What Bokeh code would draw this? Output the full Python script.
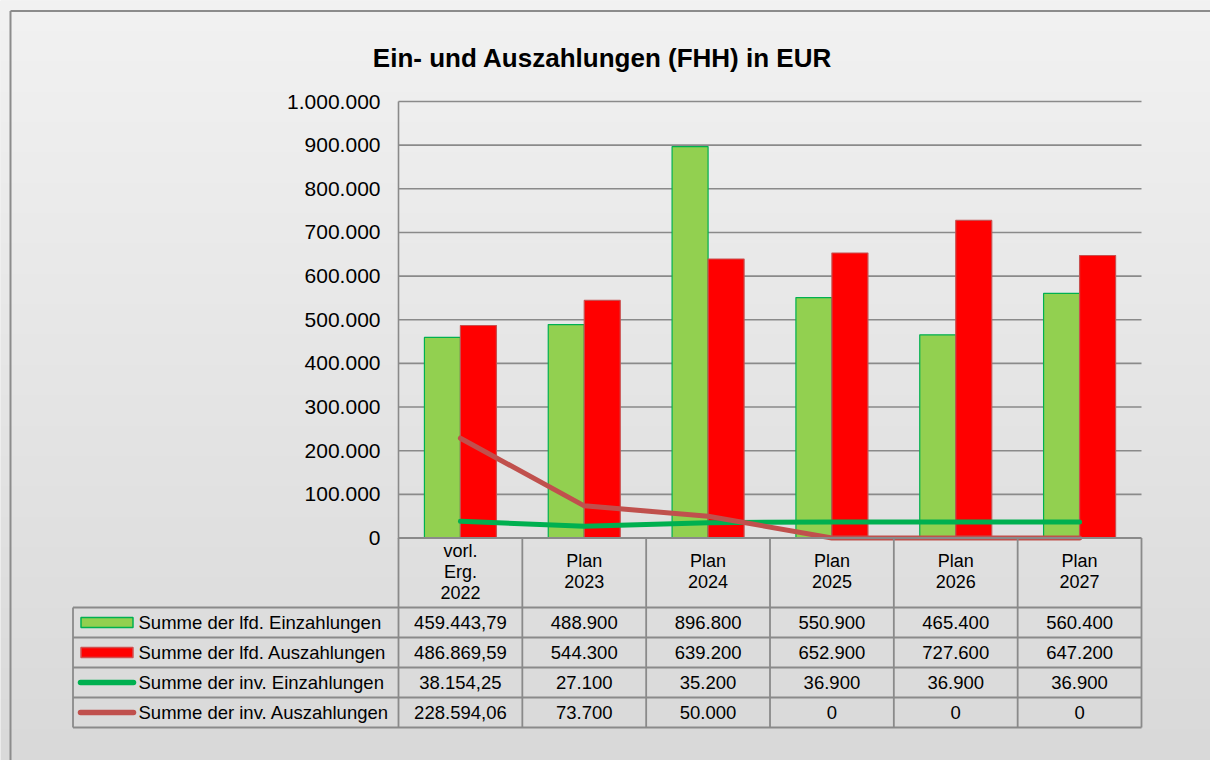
import numpy as np
from bokeh.plotting import figure
from bokeh.models import Range1d, LinearAxis, FixedTicker, CustomJSTickFormatter
from bokeh.core.properties import value
from bokeh.embed import file_html
from bokeh.resources import INLINE

# ---------------- data ----------------
categories = ["vorl.\nErg.\n2022", "Plan\n2023", "Plan\n2024", "Plan\n2025", "Plan\n2026", "Plan\n2027"]
lfd_ein = [459443.79, 488900, 896800, 550900, 465400, 560400]
lfd_aus = [486869.59, 544300, 639200, 652900, 727600, 647200]
inv_ein = [38154.25, 27100, 35200, 36900, 36900, 36900]
inv_aus = [228594.06, 73700, 50000, 0, 0, 0]
series_names = ["Summe der lfd. Einzahlungen", "Summe der lfd. Auszahlungen",
                "Summe der inv. Einzahlungen", "Summe der inv. Auszahlungen"]
y_ticks = [0, 100000, 200000, 300000, 400000, 500000, 600000, 700000, 800000, 900000, 1000000]
title_text = "Ein- und Auszahlungen (FHH) in EUR"

# ---------------- layout (page pixels) ----------------
W, H = 1210, 760
OFF = 0
AX_L, AX_R = 398.0, 1141.0
Y_TOP, Y_ZERO = 101.0, 537.5
N = len(categories)
U = (AX_R - AX_L) / N
K = 1_000_000 / (Y_ZERO - Y_TOP)


def X(px):
    return (px - AX_L) / U


def Y(py):
    return (Y_ZERO - py) * K


FONT = "Liberation Sans"
GRID_C = "#8a8a8a"

p = figure(width=W, height=H, title=None,
           x_range=Range1d(X(OFF), X(OFF + W)), y_range=Range1d(Y(OFF + H), Y(OFF)),
           x_axis_type=None, y_axis_type=None,
           toolbar_location=None, output_backend="svg",
           min_border=0, min_border_left=0, min_border_right=0,
           min_border_top=0, min_border_bottom=0,
           outline_line_color=None,
           background_fill_color="#e6e6e6", border_fill_color="#e6e6e6")

# background gradient
rows = H
top_c = np.array([242, 242, 242], dtype=float)
bot_c = np.array([217, 217, 217], dtype=float)
t = np.linspace(0, 1, rows)[:, None]
cols = (bot_c * (1 - t) + top_c * t).astype(np.uint32)  # row 0 = bottom
img = np.empty((rows, 2), dtype=np.uint32)
view = img.view(dtype=np.uint8).reshape((rows, 2, 4))
view[:, :, 0] = cols[:, 0:1]
view[:, :, 1] = cols[:, 1:2]
view[:, :, 2] = cols[:, 2:3]
view[:, :, 3] = 255
p.image_rgba(image=[img], x=X(OFF), y=Y(OFF + H), dw=X(OFF + W) - X(OFF), dh=Y(OFF) - Y(OFF + H))

# outer chart border (left/top visible)
p.segment(x0=[X(10), X(10)], y0=[Y(10.5), Y(10.5)], x1=[X(10), X(1215)], y1=[Y(770), Y(10.5)],
          line_color="#8c8c8c", line_width=2)

# horizontal gridlines
p.segment(x0=[0] * (len(y_ticks) - 1), x1=[N] * (len(y_ticks) - 1),
          y0=y_ticks[1:], y1=y_ticks[1:], line_color=GRID_C, line_width=1.6)

# y axis at plot-area left edge
yaxis = LinearAxis(fixed_location=0, ticker=FixedTicker(ticks=y_ticks),
                   formatter=CustomJSTickFormatter(code="return Math.round(tick).toString().replace(/\\B(?=(\\d{3})+(?!\\d))/g, '.');"),
                   bounds=(0, y_ticks[-1]))
yaxis.axis_line_color = GRID_C
yaxis.axis_line_width = 1.6
yaxis.major_tick_line_color = None
yaxis.minor_tick_line_color = None
yaxis.major_label_standoff = 12
yaxis.major_label_text_font = FONT
yaxis.major_label_text_font_size = "21px"
yaxis.major_label_text_color = "#000000"
p.add_layout(yaxis, "left")

# bars
centers = [i + 0.5 for i in range(N)]
bw = 36.0 / U
p.vbar(x=[c - bw / 2 for c in centers], width=bw, top=lfd_ein, bottom=0,
       fill_color="#92d050", line_color="#00b050", line_width=1.2)
p.vbar(x=[c + bw / 2 for c in centers], width=bw, top=lfd_aus, bottom=0,
       fill_color="#ff0000", line_color="#c85050", line_width=1.2)

# lines
p.line(x=centers, y=inv_ein, line_color="#00b050", line_width=5, line_cap="round", line_join="round")
p.line(x=centers, y=inv_aus, line_color="#c0504d", line_width=5, line_cap="round", line_join="round")

# ---------------- data table ----------------
ROW_LINES = [607.0, 637.0, 667.0, 697.0, 727.0]
TBL_L = 72.5
# horizontal lines
p.segment(x0=[0], x1=[N], y0=[0], y1=[0], line_color=GRID_C, line_width=1.8)
p.segment(x0=[X(TBL_L)] * len(ROW_LINES), x1=[N] * len(ROW_LINES),
          y0=[Y(r) for r in ROW_LINES], y1=[Y(r) for r in ROW_LINES], line_color=GRID_C, line_width=1.8)
# vertical lines
p.segment(x0=list(range(N + 1)), x1=list(range(N + 1)), y0=[0] * (N + 1), y1=[Y(ROW_LINES[-1])] * (N + 1),
          line_color=GRID_C, line_width=1.8)
p.segment(x0=[X(TBL_L)], x1=[X(TBL_L)], y0=[Y(ROW_LINES[0])], y1=[Y(ROW_LINES[-1])],
          line_color=GRID_C, line_width=1.8)

# header
p.text(x=centers, y=[Y((Y_ZERO + ROW_LINES[0]) / 2 - 1)] * N, text=categories,
       text_font=value(FONT), text_font_size=value("18px"), text_align="center",
       text_baseline="middle", text_line_height=1.05, text_color="#000000")


def fmt(v):
    if abs(v - round(v)) > 1e-9:
        s = f"{v:,.2f}"
        return s.replace(",", "X").replace(".", ",").replace("X", ".")
    return f"{int(round(v)):,}".replace(",", ".")


row_centers = [(ROW_LINES[i] + ROW_LINES[i + 1]) / 2 for i in range(4)]
all_series = [lfd_ein, lfd_aus, inv_ein, inv_aus]
tx, ty, tt = [], [], []
for r, ser in enumerate(all_series):
    for i, v in enumerate(ser):
        tx.append(centers[i])
        ty.append(Y(row_centers[r]))
        tt.append(fmt(v))
p.text(x=tx, y=ty, text=tt, text_font=value(FONT), text_font_size=value("18.5px"),
       text_align="center", text_baseline="middle", text_color="#000000")

# legend keys
p.quad(left=[X(80.5)], right=[X(132.5)], top=[Y(row_centers[0] - 5)], bottom=[Y(row_centers[0] + 5)],
       fill_color="#92d050", line_color="#00b050", line_width=1.5)
p.quad(left=[X(80.5)], right=[X(132.5)], top=[Y(row_centers[1] - 5)], bottom=[Y(row_centers[1] + 5)],
       fill_color="#ff0000", line_color="#d05050", line_width=1.5)
p.segment(x0=[X(80)], x1=[X(133)], y0=[Y(row_centers[2])], y1=[Y(row_centers[2])],
          line_color="#00b050", line_width=5.5, line_cap="round")
p.segment(x0=[X(80)], x1=[X(133)], y0=[Y(row_centers[3])], y1=[Y(row_centers[3])],
          line_color="#c0504d", line_width=5.5, line_cap="round")
p.text(x=[X(138)] * 4, y=[Y(rc) for rc in row_centers], text=series_names,
       text_font=value(FONT), text_font_size=value("18.5px"), text_align="left",
       text_baseline="middle", text_color="#000000")

# title
p.text(x=[X(602)], y=[Y(57)], text=[title_text], text_font=value(FONT),
       text_font_size=value("26px"), text_font_style="bold", text_align="center",
       text_baseline="middle", text_color="#000000")

open("out.html", "w").write(file_html(p, INLINE))
